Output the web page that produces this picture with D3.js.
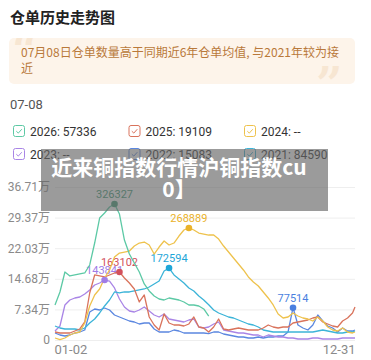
<!DOCTYPE html>
<html>
<head>
<meta charset="utf-8">
<script src="https://cdn.jsdelivr.net/npm/d3@7"></script>
<style>
  body { margin: 0; background: #fff; }
  svg { display: block; font-family: Roboto, "Noto Sans CJK SC", sans-serif; }
</style>
</head>
<body>
<div id="chart"></div>
<script>
// sample dates (every ~6 days through the year)
const dates = ["01-02","01-08","01-14","01-20","01-26","02-01","02-07","02-13","02-19","02-25",
  "03-03","03-09","03-15","03-21","03-27","04-02","04-08","04-14","04-20","04-26",
  "05-02","05-08","05-14","05-20","05-26","06-01","06-07","06-13","06-19","06-25",
  "07-01","07-07","07-13","07-19","07-25","07-31","08-06","08-12","08-18","08-24",
  "08-30","09-05","09-11","09-17","09-23","09-29","10-05","10-11","10-17","10-23",
  "10-29","11-04","11-10","11-16","11-22","11-28","12-04","12-10","12-16","12-22",
  "12-28","12-31"];

const years = ["2026", "2025", "2024", "2023", "2022", "2021"];
const legendValues = ["57336", "19109", "--", "--", "15083", "84590"];
const colors = ["#5cc9a5", "#d9735c", "#eec24c", "#a985e6", "#5b87e0", "#3cb4d8"];
const peakColors = ["#3f9a77", "#d2505c", "#eab22a", "#a07ce6", "#4a7fe0", "#1ea6d8"];

const s2026 = [84000,115200,163100,153600,156000,158400,160800,180000,232700,292700,
  304700,319100,326327,302300,239900,206300,184700,163100,134400,117600,
  105600,98400,96000,100800,98400,96000,91200,84000,84000,81600,
  74400,57336];
const s2025 = [19200,16800,16800,16800,21600,26400,43200,112800,156000,153600,
  151200,156000,160800,163102,148800,136800,122400,91200,108000,55200,
  36000,24000,62400,40800,36000,36000,33600,38400,55200,31200,
  28800,19109,31200,50400,26400,24000,26400,28800,26400,24000,
  24000,24000,28800,36000,31200,28800,31200,31200,40800,43200,
  45600,48000,52800,55200,43200,38400,33600,31200,45600,52800,
  64800,79200];
const s2024 = [4800,1000,4800,12000,16800,19200,40800,81600,108000,122400,
  148800,168000,199100,208700,211100,213500,225500,232700,235100,227900,
  206300,223100,237500,227900,232700,249500,263900,268889,263900,256700,
  254300,251900,251900,242300,225500,211100,196700,182300,168000,151200,
  139200,129600,115200,100800,84000,62400,52800,55200,64800,57600,
  52800,50400,45600,55200,45600,31200,24000,21600,28800,19200,
  16800,19200];
const s2023 = [21600,33600,84000,96000,100800,103200,110400,120000,132000,136800,
  143841,141000,124800,98400,79200,69600,67200,72000,79200,69600,
  60000,55200,62400,50400,48000,45600,43200,48000,50400,31200,
  28800,31200,38400,43200,24000,21600,19200,16800,16800,14400,
  12000,12000,7200,12000,9600,7200,7200,4800,4800,2400,
  2400,2400,4800,4800,2400,2400,2400,2400,4800,4800,
  4800,4800];
const s2022 = [16800,12000,9600,12000,16800,19200,24000,67200,74400,72000,
  76800,72000,60000,55200,50400,45600,43200,38400,40800,40800,
  26400,19200,19200,19200,24000,21600,16800,16800,16800,16800,
  16800,15083,19200,19200,14400,12000,9600,7200,7200,4800,
  4800,7200,4800,7200,7200,9600,9600,19200,77514,36000,
  28800,24000,36000,60000,45600,33600,28800,19200,28800,21600,
  21600,24000];
const s2021 = [33600,28800,26400,26400,26400,24000,28800,40800,50400,64800,
  81600,96000,115200,112800,115200,115200,117600,120000,122400,127200,
  134400,141600,165600,172594,156000,146400,136800,124800,117600,105600,
  96000,84590,72000,64800,60000,55200,52800,48000,43200,38400,
  36000,31200,24000,21600,19200,19200,19200,19200,19200,19200,
  19200,19200,19200,21600,24000,21600,19200,16800,16800,19200,
  19200,21600];
const seriesValues = [s2026, s2025, s2024, s2023, s2022, s2021];

const yTicks = [0, 73420, 146840, 220260, 293680, 367100];

const W = 371, H = 360;
const svg = d3.select("#chart").append("svg").attr("width", W).attr("height", H);

// header
svg.append("text").attr("x", 10).attr("y", 23)
  .attr("font-family", "'Noto Sans CJK SC', sans-serif")
  .attr("font-size", 15).attr("font-weight", 700).attr("fill", "#222")
  .text("仓单历史走势图");

svg.append("clipPath").attr("id", "boxclip")
  .append("rect").attr("x", 9).attr("y", 38).attr("width", 346).attr("height", 46).attr("rx", 5);
const box = svg.append("g").attr("clip-path", "url(#boxclip)");
box.append("rect").attr("x", 9).attr("y", 38).attr("width", 346).attr("height", 46)
  .attr("fill", "#fdf4ea");
box.append("text").attr("x", 12).attr("y", 66).attr("font-family", "Georgia, 'DejaVu Serif', serif")
  .attr("font-size", 46).attr("font-weight", 700).attr("fill", "#f7e6d2").text("\u201C");
box.append("text").attr("x", 316).attr("y", 100).attr("font-family", "Georgia, 'DejaVu Serif', serif")
  .attr("font-size", 46).attr("font-weight", 700).attr("fill", "#f7e6d2").text("\u201D");
const note = svg.append("text").attr("font-family", "'Noto Sans CJK SC', sans-serif")
  .attr("font-size", 12).attr("fill", "#b9793a");
note.append("tspan").attr("x", 21).attr("y", 57).text("07月08日仓单数量高于同期近6年仓单均值, 与2021年较为接");
note.append("tspan").attr("x", 21).attr("y", 73).text("近");

svg.append("text").attr("x", 10).attr("y", 109).attr("font-size", 13).attr("fill", "#555").text("07-08");

// legend
const legend = svg.append("g");
years.forEach((yr, i) => {
  const gx = 13 + (i % 3) * 115.5, gy = 125 + Math.floor(i / 3) * 23;
  const g = legend.append("g").attr("transform", `translate(${gx},${gy})`);
  g.append("rect").attr("x", 0.5).attr("y", 0.5).attr("width", 11).attr("height", 11)
    .attr("rx", 2).attr("fill", "#fff").attr("stroke", colors[i]).attr("stroke-width", 1);
  g.append("path").attr("d", "M3.3,6.2 L5.3,8.1 L8.8,4.2").attr("fill", "none")
    .attr("stroke", colors[i]).attr("stroke-width", 1);
  g.append("text").attr("x", 17).attr("y", 10.5).attr("font-size", 12).attr("fill", "#333")
    .text(`${yr}: ${legendValues[i]}`);
});

// chart
const parse = d3.timeParse("%m-%d");
const x = d3.scaleTime().domain([parse(dates[0]), parse(dates[dates.length - 1])]).range([55, 355]);
const y = d3.scaleLinear().domain([0, 367100]).range([340, 187]);

const yAxis = svg.append("g").attr("transform", "translate(55,0)")
  .call(d3.axisLeft(y).tickValues(yTicks).tickSize(-300)
    .tickFormat(d => d === 0 ? "0" : (d / 10000).toFixed(2) + "万"));
yAxis.select(".domain").remove();
yAxis.selectAll(".tick line").attr("stroke", "#eeeeee");
yAxis.selectAll(".tick text").attr("x", -5).attr("fill", "#8a8a8a")
  .attr("font-size", 12).attr("font-family", "Roboto, 'Noto Sans CJK SC', sans-serif");

const xAxis = svg.append("g").attr("transform", "translate(0,340)")
  .call(d3.axisBottom(x).tickValues([parse("01-02"), parse("12-31")]).tickSize(0)
    .tickFormat(d3.timeFormat("%m-%d")));
xAxis.select(".domain").remove();
xAxis.selectAll(".tick text").attr("y", 14).attr("dy", 0).attr("fill", "#8a8a8a").attr("font-size", 13)
  .attr("font-family", "Roboto, sans-serif")
  .attr("text-anchor", (d, i) => i === 0 ? "start" : "end")
  .attr("dx", (d, i) => i === 0 ? "-1" : "0");

const line = d3.line()
  .defined(d => d.v != null)
  .x(d => x(d.date)).y(d => y(d.v));

const series = seriesValues.map((vals, i) => ({
  name: years[i],
  color: colors[i],
  peak: peakColors[i],
  points: vals.map((v, j) => ({ date: parse(dates[j]), v }))
}));

// draw order: older years under newer
const order = [4, 3, 5, 1, 2, 0];
const labels = svg.append("g");
order.forEach(i => {
  const s = series[i];
  svg.append("path").datum(s.points).attr("d", line)
    .attr("fill", "none").attr("stroke", s.color).attr("stroke-width", 1.3)
    .attr("stroke-linejoin", "round");
});
order.forEach(i => {
  const s = series[i];
  const m = d3.maxIndex(s.points, d => d.v);
  const p = s.points[m];
  labels.append("text").attr("x", x(p.date)).attr("y", y(p.v) - 6)
    .attr("text-anchor", "middle").attr("font-size", 11).attr("fill", s.peak)
    .text(p.v);
  svg.append("circle").attr("cx", x(p.date)).attr("cy", y(p.v)).attr("r", 3.3)
    .attr("fill", s.peak);
});

// overlay banner
svg.append("rect").attr("x", 41).attr("y", 149).attr("width", 287).attr("height", 62)
  .attr("fill", "rgba(102,102,102,0.65)");
const ban = svg.append("text").attr("text-anchor", "middle")
  .attr("font-family", "'Noto Sans CJK SC', sans-serif")
  .attr("font-size", 21).attr("font-weight", 700).attr("fill", "#fff");
ban.append("tspan").attr("x", 179).attr("y", 175).text("近来铜指数行情沪铜指数cu");
ban.append("tspan").attr("x", 179).attr("y", 197).text("0】");
</script>
</body>
</html>
